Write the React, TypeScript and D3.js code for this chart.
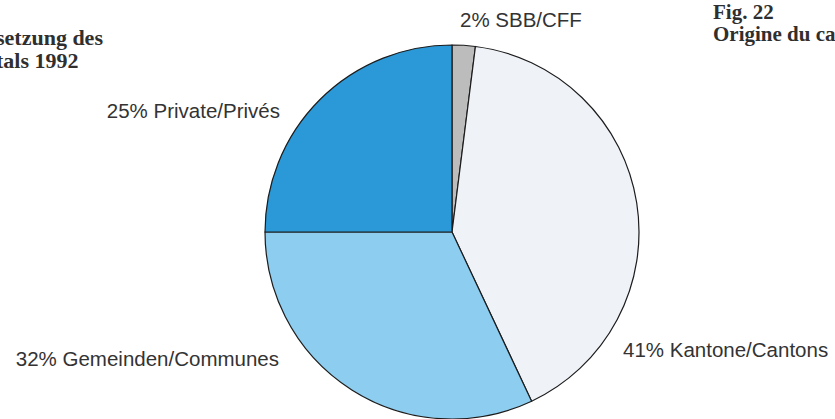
import React from "react";
import * as d3 from "d3";

const categories = ["SBB/CFF", "Kantone/Cantons", "Gemeinden/Communes", "Private/Privés"];
const shares = [2, 41, 32, 25];
const sliceColors = ["#bcbcbc", "#eff3f8", "#8ccdf0", "#2b99d7"];

const titleLeft = ["setzung des", "tals 1992"];
const titleRight = ["Fig. 22", "Origine du ca"];

// label layout (pixel positions, anchor)
const labelLayout: Record<string, { x: number; y: number; anchor: "start" | "end" }> = {
  "SBB/CFF": { x: 460, y: 27, anchor: "start" },
  "Kantone/Cantons": { x: 623, y: 357, anchor: "start" },
  "Gemeinden/Communes": { x: 279, y: 366, anchor: "end" },
  "Private/Privés": { x: 280, y: 118, anchor: "end" },
};

const W = 835;
const H = 419;
const cx = 452;
const cy = 232;
const R = 187;

export default function App() {
  const data = categories.map((c, i) => ({ name: c, value: shares[i], color: sliceColors[i] }));
  const pie = d3
    .pie<{ name: string; value: number; color: string }>()
    .value((d) => d.value)
    .sort(null)
    .startAngle(0)
    .endAngle(2 * Math.PI);
  const arcs = pie(data);
  const arcGen = d3
    .arc<d3.PieArcDatum<{ name: string; value: number; color: string }>>()
    .innerRadius(0)
    .outerRadius(R);

  return (
    <svg
      width={W}
      height={H}
      viewBox={`0 0 ${W} ${H}`}
      style={{ position: "absolute", left: 0, top: 0, background: "#ffffff" }}
    >
      <g fontFamily="'Liberation Serif', 'Times New Roman', serif" fontWeight="bold" fill="#2f2f2f">
        {titleLeft.map((t, i) => (
          <text key={t} x={-4} y={45 + i * 23} textAnchor="start" fontSize={22}>
            {t}
          </text>
        ))}
        {titleRight.map((t, i) => (
          <text key={t} x={713} y={19 + i * 22} textAnchor="start" fontSize={21}>
            {t}
          </text>
        ))}
      </g>
      <g transform={`translate(${cx},${cy})`}>
        {arcs.map((a) => (
          <path
            key={a.data.name}
            d={arcGen(a) || ""}
            fill={a.data.color}
            stroke="#1c1c1c"
            strokeWidth={1.2}
            strokeLinejoin="round"
          />
        ))}
      </g>
      <g fontFamily="'Liberation Sans', Arial, Helvetica, sans-serif" fontSize={20.5} fill="#333333">
        {data.map((d) => {
          const l = labelLayout[d.name];
          return (
            <text key={d.name} x={l.x} y={l.y} textAnchor={l.anchor}>
              {`${d.value}% ${d.name}`}
            </text>
          );
        })}
      </g>
    </svg>
  );
}
